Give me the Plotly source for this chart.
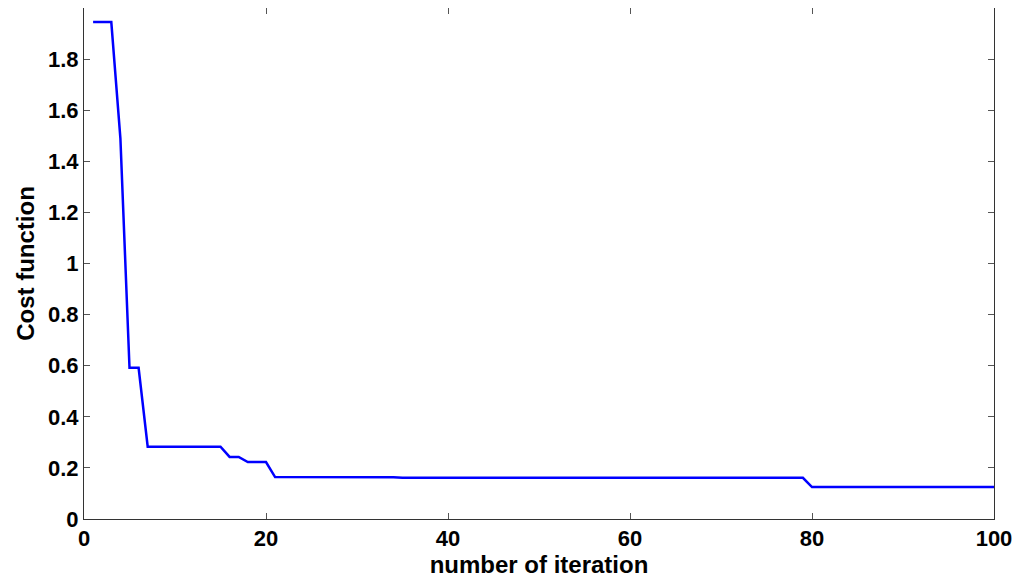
import plotly.graph_objects as go

iterations = list(range(1, 101))
cost = ([1.945, 1.945, 1.945, 1.49, 0.592, 0.592]
        + [0.283] * 9          # 7..15
        + [0.243, 0.243]       # 16,17
        + [0.223, 0.223, 0.223]  # 18..20
        + [0.164] * 4          # 21..24
        + [0.165] * 5          # 25..29
        + [0.163] * 5          # 30..34
        + [0.161] * 45         # 35..79
        + [0.125] * 21)        # 80..100

fig = go.Figure(go.Scatter(x=iterations, y=cost, mode="lines",
                           line=dict(color="#0000ff", width=2.5)))
axis_common = dict(showgrid=False, zeroline=False, showline=True, mirror="ticks",
                   linecolor="#333", linewidth=1, ticks="inside", ticklen=6,
                   tickcolor="#555",
                   tickfont=dict(family="Arial, Liberation Sans", size=22, color="black",
                                 weight="bold"))
fig.update_xaxes(range=[0, 100], dtick=20, title=dict(text="<b>number of iteration</b>", standoff=0,
                 font=dict(family="Arial, Liberation Sans", size=24, color="black")), **axis_common)
fig.update_yaxes(range=[0, 2], dtick=0.2, tickformat="~g",
                 title=dict(text="<b>Cost function</b>", standoff=6,
                 font=dict(family="Arial, Liberation Sans", size=24, color="black")), **axis_common)
fig.update_layout(width=1024, height=584, plot_bgcolor="white", paper_bgcolor="white",
                  margin=dict(l=76, r=38, t=0, b=73), showlegend=False)
fig.write_html("out.html")
